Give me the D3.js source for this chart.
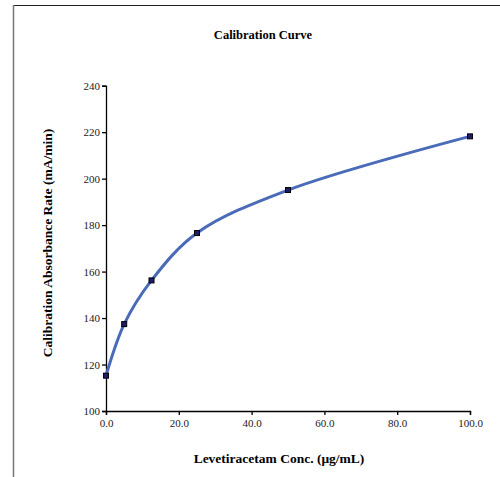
<!DOCTYPE html>
<html lang="en">

<head>
    <meta charset="UTF-8" />
    <title>Calibration Curve</title>
    <script src="https://d3js.org/d3.v7.js"></script>
    <style>
        body { margin: 0; background: white; }
        svg text { font-family: "Liberation Serif", "DejaVu Serif", serif; }
    </style>
</head>

<body>
    <script>
        var w = 500;
        var h = 477;

        // data
        var conc = [0, 5, 12.5, 25, 50, 100];
        var rate = [115.2, 137.4, 156.2, 176.6, 195.1, 218.2];
        var xTicks = [0, 20, 40, 60, 80, 100];
        var yTicks = [100, 120, 140, 160, 180, 200, 220, 240];

        var points = conc.map(function (c, i) {
            return { x: c, y: rate[i] };
        });

        var svg = d3.select("body")
            .append("svg")
            .attr("width", w)
            .attr("height", h);

        // frame edges (top and left)
        svg.append("line")
            .attr("x1", 13).attr("x2", w)
            .attr("y1", 5.5).attr("y2", 5.5)
            .attr("stroke", "#222")
            .attr("stroke-width", 1);
        svg.append("line")
            .attr("x1", 13.5).attr("x2", 13.5)
            .attr("y1", 5).attr("y2", h)
            .attr("stroke", "#777")
            .attr("stroke-width", 1.5);

        var xScale = d3.scaleLinear()
            .domain([0, 100])
            .range([106, 470]);

        var yScale = d3.scaleLinear()
            .domain([100, 240])
            .range([411, 85.7]);

        var xAxis = d3.axisBottom(xScale)
            .tickValues(xTicks)
            .tickFormat(d3.format(".1f"))
            .tickSizeOuter(0)
            .tickSize(4);

        var yAxis = d3.axisLeft(yScale)
            .tickValues(yTicks)
            .tickSizeOuter(0)
            .tickSize(4);

        var gx = svg.append("g")
            .attr("transform", "translate(0," + yScale(100) + ")")
            .call(xAxis);

        var gy = svg.append("g")
            .attr("transform", "translate(" + xScale(0) + ",0)")
            .call(yAxis);

        [gx, gy].forEach(function (g) {
            g.attr("font-family", "Liberation Serif, serif").attr("font-size", 11);
            g.select(".domain").attr("stroke", "#000").attr("stroke-width", 1.3);
            g.selectAll(".tick line").attr("stroke", "#000").attr("stroke-width", 1.3);
            g.selectAll(".tick text").attr("fill", "#222");
        });
        gx.selectAll(".tick text").attr("dy", "0.85em");
        gy.selectAll(".tick text").attr("x", -6);

        // smoothed line
        var line = d3.line()
            .x(function (d) { return xScale(d.x); })
            .y(function (d) { return yScale(d.y); })
            .curve(d3.curveCatmullRom.alpha(0.5));

        svg.append("path")
            .datum(points)
            .attr("d", line)
            .attr("fill", "none")
            .attr("stroke", "#4a6bb8")
            .attr("stroke-width", 3);

        // markers
        svg.selectAll("rect.marker")
            .data(points)
            .enter()
            .append("rect")
            .attr("class", "marker")
            .attr("x", function (d) { return xScale(d.x) - 2.5; })
            .attr("y", function (d) { return yScale(d.y) - 2.5; })
            .attr("width", 5)
            .attr("height", 5)
            .attr("fill", "#1c1c6b")
            .attr("stroke", "#000")
            .attr("stroke-width", 1);

        // titles
        svg.append("text")
            .attr("x", 263)
            .attr("y", 39)
            .attr("text-anchor", "middle")
            .style("font-size", "12.5px")
            .style("font-weight", "bold")
            .text("Calibration Curve");

        svg.append("text")
            .attr("x", 279)
            .attr("y", 463)
            .attr("text-anchor", "middle")
            .style("font-size", "13.5px")
            .style("font-weight", "bold")
            .text("Levetiracetam Conc. (μg/mL)");

        svg.append("text")
            .attr("transform", "translate(52,243) rotate(-90)")
            .attr("text-anchor", "middle")
            .style("font-size", "13.5px")
            .style("font-weight", "bold")
            .text("Calibration Absorbance Rate (mA/min)");
    </script>
</body>

</html>
